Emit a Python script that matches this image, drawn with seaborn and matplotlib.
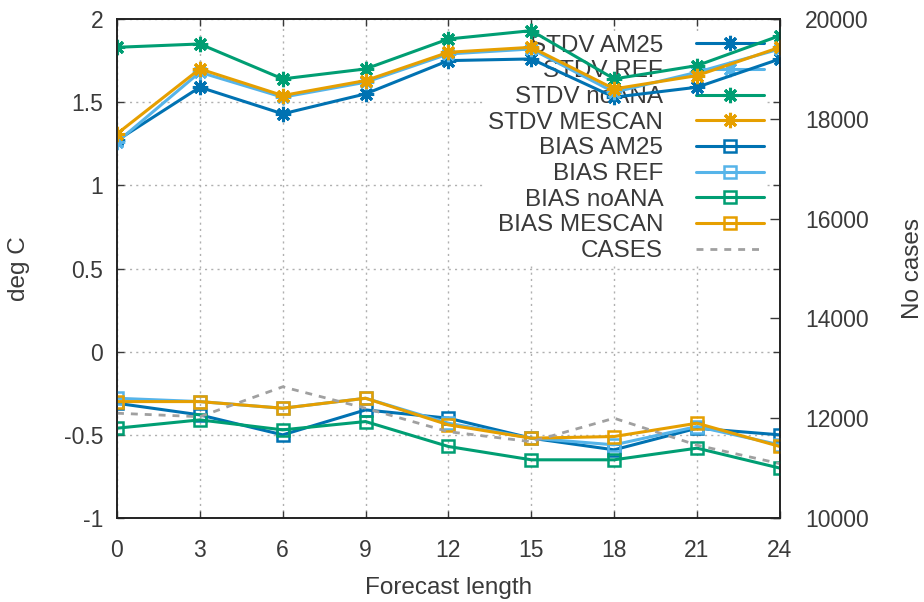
import numpy as np
import pandas as pd
import matplotlib
matplotlib.use('Agg')
import matplotlib.pyplot as plt
import seaborn as sns

# forecast length (hours)
lead = [0, 3, 6, 9, 12, 15, 18, 21, 24]

# standard deviation (deg C)
stdv_am25 = [1.27, 1.59, 1.43, 1.55, 1.75, 1.76, 1.53, 1.59, 1.76]
stdv_ref = [1.26, 1.68, 1.53, 1.62, 1.79, 1.82, 1.56, 1.68, 1.82]
stdv_noana = [1.83, 1.85, 1.64, 1.70, 1.88, 1.93, 1.64, 1.72, 1.90]
stdv_mescan = [1.31, 1.70, 1.54, 1.63, 1.80, 1.83, 1.58, 1.66, 1.83]

# bias (deg C)
bias_am25 = [-0.31, -0.38, -0.50, -0.35, -0.40, -0.52, -0.59, -0.46, -0.50]
bias_ref = [-0.28, -0.30, -0.34, -0.28, -0.43, -0.52, -0.56, -0.45, -0.56]
bias_noana = [-0.46, -0.41, -0.47, -0.42, -0.57, -0.65, -0.65, -0.58, -0.70]
bias_mescan = [-0.30, -0.30, -0.34, -0.28, -0.44, -0.52, -0.51, -0.43, -0.57]

# number of cases (right axis)
cases = [12100, 12030, 12630, 12200, 11730, 11530, 12000, 11460, 11090]

C_AM25 = '#0072b2'
C_REF = '#56b4e9'
C_NOANA = '#009e73'
C_MESCAN = '#e69f00'
C_CASES = '#a0a0a0'
TXT = '#3a3a3a'

sns.set_style('white')
plt.rcParams['font.family'] = ['Liberation Sans', 'DejaVu Sans']
plt.rcParams['font.size'] = 16
plt.rcParams['text.color'] = TXT
plt.rcParams['axes.labelcolor'] = TXT
plt.rcParams['xtick.color'] = TXT
plt.rcParams['ytick.color'] = TXT

fig = plt.figure(figsize=(9.24, 6.02), dpi=100)
ax = fig.add_axes([0.1266, 0.1395, 0.844 - 0.1266, 0.9684 - 0.1395])
ax2 = ax.twinx()

star = (8, 2, 0)
series = [
    ('STDV AM25', stdv_am25, C_AM25, star),
    ('STDV REF', stdv_ref, C_REF, star),
    ('STDV noANA', stdv_noana, C_NOANA, star),
    ('STDV MESCAN', stdv_mescan, C_MESCAN, star),
    ('BIAS AM25', bias_am25, C_AM25, 's'),
    ('BIAS REF', bias_ref, C_REF, 's'),
    ('BIAS noANA', bias_noana, C_NOANA, 's'),
    ('BIAS MESCAN', bias_mescan, C_MESCAN, 's'),
]
for name, vals, col, mk in series:
    df = pd.DataFrame({'lead': lead, 'val': vals})
    if mk == 's':
        sns.lineplot(data=df, x='lead', y='val', ax=ax, color=col, lw=2.2,
                     marker='s', markersize=8, markerfacecolor='none',
                     markeredgecolor=col, markeredgewidth=1.8, label=name, zorder=3)
    else:
        sns.lineplot(data=df, x='lead', y='val', ax=ax, color=col, lw=2.2,
                     marker=mk, markersize=11, markeredgecolor=col,
                     markeredgewidth=2.2, label=name, zorder=3)

sns.lineplot(x=lead, y=cases, ax=ax2, color=C_CASES, lw=2, linestyle=(0, (2.5, 2.5)),
             label='CASES')

ax.set_xlim(0, 24)
ax.set_ylim(-1, 2)
ax2.set_ylim(10000, 20000)
ax.set_xticks(lead)
ax.set_yticks([-1, -0.5, 0, 0.5, 1, 1.5, 2])
ax.set_yticklabels(['-1', '-0.5', '0', '0.5', '1', '1.5', '2'])
ax2.set_yticks([10000, 12000, 14000, 16000, 18000, 20000])

ax.grid(True, color='#b0b0b0', linestyle=(0, (1.5, 3)), linewidth=1)
ax.set_axisbelow(True)
ax.tick_params(direction='in', length=5, width=1, top=True, right=True,
               left=True, bottom=True, labelsize=16.5)
ax.tick_params(axis='x', pad=15)
ax.tick_params(axis='y', pad=10)
ax2.tick_params(direction='in', length=7, width=1, labelsize=16.5, pad=18)
for a in (ax, ax2):
    for s in a.spines.values():
        s.set_color('#222222')
        s.set_linewidth(1.2)

ax.set_xlabel('Forecast length', fontsize=17.5, labelpad=11)
ax.set_ylabel('deg C', fontsize=17.5, labelpad=24)
ax2.set_ylabel('No cases', fontsize=17.5, labelpad=24)

h1, l1 = ax.get_legend_handles_labels()
h2, l2 = ax2.get_legend_handles_labels()
if ax2.get_legend() is not None:
    ax2.get_legend().remove()
leg = ax.legend(h1 + h2, l1 + l2, loc='upper right', markerfirst=False,
                frameon=True, fancybox=False, framealpha=1, edgecolor='white',
                facecolor='white', fontsize=17.5, handlelength=2.8,
                handletextpad=1.35, labelspacing=0.15, borderpad=0.1,
                borderaxespad=0.55)
leg.set_zorder(1.5)

fig.savefig('out.png', dpi=100)
